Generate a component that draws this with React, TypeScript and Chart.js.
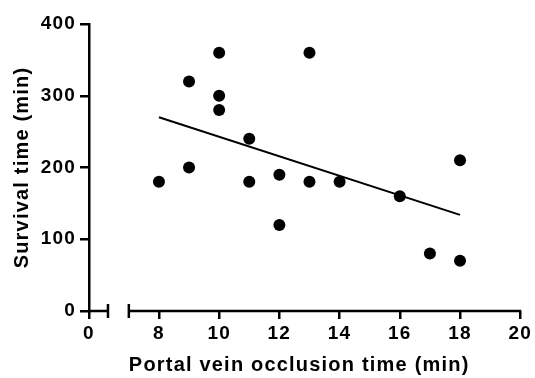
import { useEffect, useRef } from "react";
import { Chart, registerables } from "chart.js";

Chart.register(...registerables);

// Data
const occlusionTimes = [8, 9, 9, 10, 10, 10, 11, 11, 12, 12, 13, 13, 14, 16, 17, 18, 18];
const survivalTimes = [180, 320, 200, 360, 300, 280, 240, 180, 190, 120, 360, 180, 180, 160, 80, 210, 70];
const fitX = [8, 18];
const fitY = [270, 134];
const xTicksBreak = [0];
const xTicksMain = [8, 10, 12, 14, 16, 18, 20];
const yTicks = [0, 100, 200, 300, 400];
const breakSegment = [0, 1];
const mainSegment = [7, 20];

const FONT_FAMILY = '"Liberation Sans", Arial, Helvetica, sans-serif';
const tickFont = { family: FONT_FAMILY, size: 19, weight: "bold" as const };
const titleFont = { family: FONT_FAMILY, size: 20, weight: "bold" as const };
const AXIS_W = 2.5;

const spacingPlugin = {
  id: "letterSpacing",
  beforeUpdate(chart: any) {
    (chart.ctx as any).letterSpacing = "1.2px";
  },
  beforeLayout(chart: any) {
    (chart.ctx as any).letterSpacing = "1.2px";
  },
  beforeDraw(chart: any) {
    (chart.ctx as any).letterSpacing = "1.2px";
  },
};

const brokenAxisPlugin = {
  id: "brokenAxis",
  afterDraw(chart: any) {
    const ctx = chart.ctx as CanvasRenderingContext2D;
    const y = chart.chartArea.bottom;
    const s0 = chart.scales.x0;
    const s1 = chart.scales.x;
    const a = s0.getPixelForValue(breakSegment[0]);
    const b = s0.getPixelForValue(breakSegment[1]);
    const c = s1.getPixelForValue(mainSegment[0]);
    const d = s1.getPixelForValue(mainSegment[1]);
    ctx.save();
    ctx.strokeStyle = "#000";
    ctx.lineWidth = AXIS_W;
    ctx.lineCap = "butt";
    ctx.beginPath();
    ctx.moveTo(a - 1, y);
    ctx.lineTo(b, y);
    ctx.moveTo(c, y);
    ctx.lineTo(d + 1, y);
    ctx.moveTo(b, y - 7);
    ctx.lineTo(b, y + 7);
    ctx.moveTo(c, y - 7);
    ctx.lineTo(c, y + 7);
    ctx.stroke();
    ctx.restore();
  },
};

export default function App() {
  const canvasRef = useRef<HTMLCanvasElement | null>(null);

  useEffect(() => {
    if (!canvasRef.current) return;
    const points = occlusionTimes.map((x, i) => ({ x, y: survivalTimes[i] }));
    const fit = fitX.map((x, i) => ({ x, y: fitY[i] }));

    const gridOpts = {
      display: true,
      drawOnChartArea: false,
      drawTicks: true,
      tickLength: 8,
      color: "#000",
      lineWidth: AXIS_W,
    };

    const chart = new Chart(canvasRef.current, {
      type: "scatter",
      data: {
        datasets: [
          {
            label: "Fit",
            data: fit,
            showLine: true,
            borderColor: "#000",
            borderWidth: 2,
            pointRadius: 0,
            pointHoverRadius: 0,
            xAxisID: "x",
            yAxisID: "y",
            order: 1,
          } as any,
          {
            label: "Survival",
            data: points,
            backgroundColor: "#000",
            borderColor: "#000",
            borderWidth: 0,
            pointRadius: 6,
            pointHoverRadius: 6,
            xAxisID: "x",
            yAxisID: "y",
            order: 2,
          },
        ],
      },
      options: {
        responsive: false,
        animation: false,
        events: [],
        layout: { padding: { top: 24, right: 13, bottom: 0, left: 0 } },
        plugins: {
          legend: { display: false },
          tooltip: { enabled: false },
        },
        scales: {
          x0: {
            type: "linear",
            position: "bottom",
            stack: "xstack",
            stackWeight: 40,
            min: 0,
            max: 2.1,
            afterBuildTicks: (s: any) => {
              s.ticks = xTicksBreak.map((v) => ({ value: v }));
            },
            afterFit: (s: any) => {
              s.height = 67;
            },
            border: { display: false },
            grid: gridOpts,
            ticks: { color: "#000", font: tickFont, padding: 3, maxRotation: 0, autoSkip: false },
          },
          x: {
            type: "linear",
            position: "bottom",
            stack: "xstack",
            stackWeight: 393,
            min: mainSegment[0],
            max: mainSegment[1],
            afterBuildTicks: (s: any) => {
              s.ticks = xTicksMain.map((v) => ({ value: v }));
            },
            afterFit: (s: any) => {
              s.height = 67;
            },
            border: { display: false },
            grid: gridOpts,
            ticks: { color: "#000", font: tickFont, padding: 3, maxRotation: 0, autoSkip: false },
            title: {
              display: true,
              text: "Portal vein occlusion time (min)",
              color: "#000",
              font: titleFont,
              align: "start",
              padding: { top: 0, bottom: 1 },
            },
          },
          y: {
            type: "linear",
            position: "left",
            min: 0,
            max: 400,
            afterBuildTicks: (s: any) => {
              s.ticks = yTicks.map((v) => ({ value: v }));
            },
            afterFit: (s: any) => {
              s.width = 89;
            },
            border: { display: true, color: "#000", width: AXIS_W },
            grid: { ...gridOpts, tickLength: 9 },
            ticks: { color: "#000", font: tickFont, padding: 4 },
            title: {
              display: true,
              text: "Survival time (min)",
              color: "#000",
              font: titleFont,
              padding: { top: 10, bottom: 0 },
            },
          },
        },
      } as any,
      plugins: [spacingPlugin, brokenAxisPlugin],
    });

    return () => chart.destroy();
  }, []);

  return (
    <div style={{ position: "fixed", left: 0, top: 0, width: 535, height: 378, background: "#fff" }}>
      <canvas ref={canvasRef} width={535} height={378} style={{ width: 535, height: 378, display: "block" }} />
    </div>
  );
}
